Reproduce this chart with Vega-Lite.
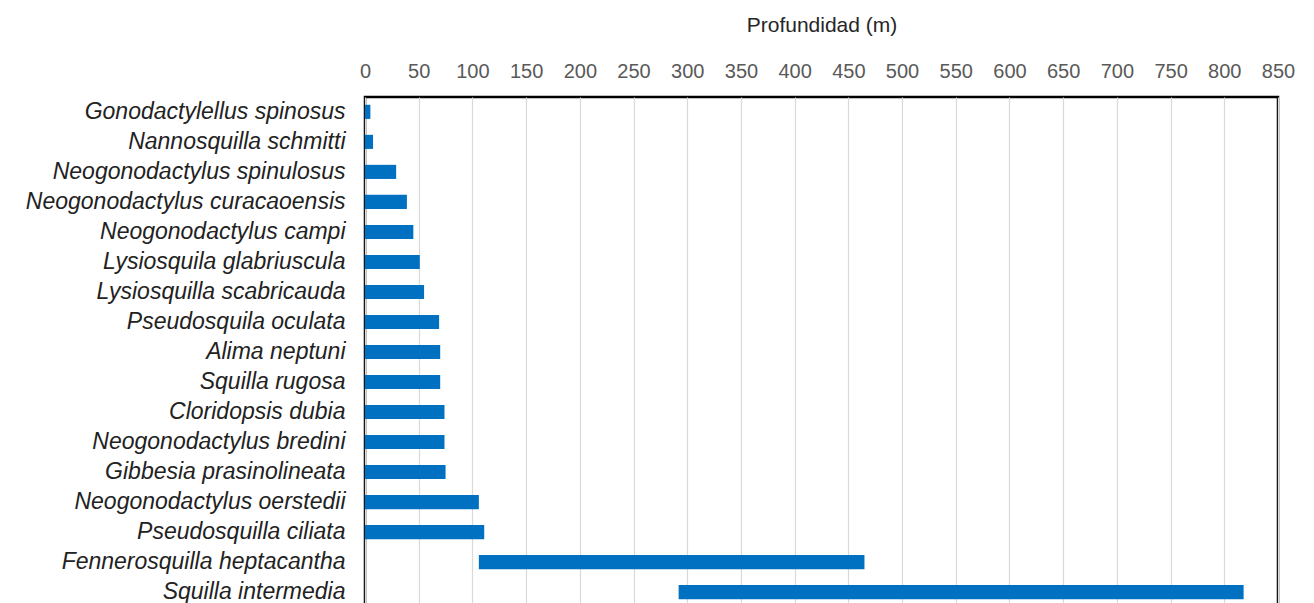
{
  "$schema": "https://vega.github.io/schema/vega-lite/v6.json",
  "width": 913,
  "height": 510,
  "autosize": {"type": "none"},
  "padding": {"left": 365, "top": 97, "right": 36, "bottom": 0},
  "background": "white",
  "config": {
    "view": {"stroke": "black", "strokeWidth": 2.5},
    "font": "Liberation Sans"
  },
  "data": {
    "values": [
      {"especie": "Gonodactylellus spinosus", "min": 0, "max": 5},
      {"especie": "Nannosquilla schmitti", "min": 0, "max": 7.5},
      {"especie": "Neogonodactylus spinulosus", "min": 0, "max": 29},
      {"especie": "Neogonodactylus curacaoensis", "min": 0, "max": 39},
      {"especie": "Neogonodactylus campi", "min": 0, "max": 45},
      {"especie": "Lysiosquila glabriuscula", "min": 0, "max": 51},
      {"especie": "Lysiosquilla scabricauda", "min": 0, "max": 55},
      {"especie": "Pseudosquila oculata", "min": 0, "max": 69},
      {"especie": "Alima neptuni", "min": 0, "max": 70},
      {"especie": "Squilla rugosa", "min": 0, "max": 70},
      {"especie": "Cloridopsis dubia", "min": 0, "max": 74},
      {"especie": "Neogonodactylus bredini", "min": 0, "max": 74},
      {"especie": "Gibbesia prasinolineata", "min": 0, "max": 75},
      {"especie": "Neogonodactylus oerstedii", "min": 0, "max": 106},
      {"especie": "Pseudosquilla ciliata", "min": 0, "max": 111},
      {"especie": "Fennerosquilla heptacantha", "min": 106, "max": 465},
      {"especie": "Squilla intermedia", "min": 292, "max": 818}
    ]
  },
  "mark": {"type": "bar", "color": "#0070c0"},
  "encoding": {
    "y": {
      "field": "especie",
      "type": "nominal",
      "sort": null,
      "scale": {"paddingInner": 0.53, "paddingOuter": 0.26},
      "axis": {
        "title": null,
        "ticks": false,
        "domain": false,
        "labelFont": "Liberation Sans",
        "labelFontStyle": "italic",
        "labelFontSize": 23,
        "labelColor": "#222222",
        "labelPadding": 20,
        "labelLimit": 400
      }
    },
    "x": {
      "field": "min",
      "type": "quantitative",
      "scale": {"domain": [0, 850], "nice": false},
      "axis": {
        "orient": "top",
        "title": "Profundidad  (m)",
        "values": [0,50,100,150,200,250,300,350,400,450,500,550,600,650,700,750,800,850],
        "ticks": false,
        "domain": false,
        "grid": true,
        "gridColor": "#d9d9d9",
        "gridWidth": 1.2,
        "labelFontSize": 20,
        "labelColor": "#595959",
        "labelPadding": 16,
        "labelFlush": false,
        "labelOverlap": false,
        "titleFontSize": 21,
        "titleFontWeight": "normal",
        "titleColor": "#262626",
        "titlePadding": 26
      }
    },
    "x2": {"field": "max"}
  }
}
